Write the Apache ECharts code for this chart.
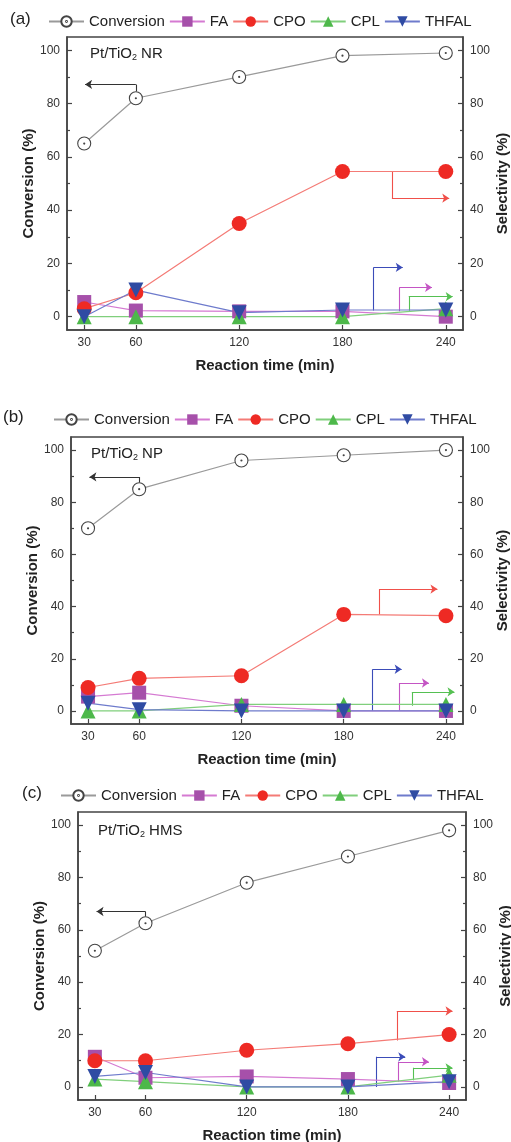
<!DOCTYPE html>
<html>
<head>
<meta charset="utf-8">
<script src="https://cdn.jsdelivr.net/npm/echarts@6/dist/echarts.min.js"></script>
<style>
  html, body { margin: 0; padding: 0; background: #fff; }
  #chart { width: 511px; height: 1142px; }
</style>
</head>
<body>
<div id="chart"></div>
<script>
// reaction times (min), shared by all three panels
const times = [30, 60, 120, 180, 240];
const xTicks = [30, 60, 120, 180, 240];
const yTicks = [0, 20, 40, 60, 80, 100];
const yMinor = [10, 30, 50, 70, 90];
const seriesNames = ["Conversion", "FA", "CPO", "CPL", "THFAL"];

// (a) Pt/TiO2 NR
const convA = [65, 82, 90, 98, 99];
const faA = [5.5, 2.3, 2, 2, 0];
const cpoA = [3, 9, 35, 54.5, 54.5];
const cplA = [0, 0, 0, 0, 3];
const thfalA = [0, 10, 1.5, 2.5, 2.5];

// (b) Pt/TiO2 NP
const convB = [70, 85, 96, 98, 100];
const faB = [5.5, 7, 2, 0, 0];
const cpoB = [9, 12.5, 13.5, 37, 36.5];
const cplB = [0, 0, 2.5, 2.5, 2.5];
const thfalB = [3, 0.5, 0, 0, 0];

// (c) Pt/TiO2 HMS
const convC = [52, 62.5, 78, 88, 98];
const faC = [11.5, 3.5, 4, 3, 1.5];
const cpoC = [10, 10, 14, 16.5, 20];
const cplC = [3, 2, 0, 0, 4.5];
const thfalC = [4, 5.5, 0, 0, 2];

// axis-pointer arrows, in data units: [time, %] corners
const arrowsA = {
  conv: [[60, 84.5], [60, 87.2], [30.5, 87.2]],
  cpo: [[208.7, 54.3], [208.7, 44.5], [242, 44.5]],
  thfal: [[198, 2.3], [198, 18.5], [215, 18.5]],
  fa: [[213, 2], [213, 11], [232, 11]],
  cpl: [[218.5, 2.2], [218.5, 7.5], [244, 7.5]],
};
const arrowsB = {
  conv: [[60, 87.5], [60, 89.7], [30.8, 89.7]],
  cpo: [[201, 37], [201, 46.7], [235, 46.7]],
  thfal: [[197, 0], [197, 16], [214, 16]],
  fa: [[212.5, 0], [212.5, 10.7], [230, 10.7]],
  cpl: [[220, 2], [220, 7.3], [245, 7.3]],
};
const arrowsC = {
  conv: [[60, 65], [60, 67], [31, 67]],
  cpo: [[209, 17.7], [209, 29], [242, 29]],
  thfal: [[197, 0], [197, 11.5], [214, 11.5]],
  fa: [[210, 2], [210, 9.6], [228, 9.6]],
  cpl: [[219, 2.5], [219, 7.3], [242, 7.3]],
};

const FONT = "Liberation Sans, Arial, sans-serif";
const AXIS = "#444";
const ring = "path://M12,0A12,12 0 1,1 12,24A12,12 0 1,1 12,0Z M12,11A1,1 0 1,1 12,13A1,1 0 1,1 12,11Z";
const triDown = "path://M0,0L10,0L5,9Z";

const styles = {
  Conversion: { symbol: ring, size: 13, color: "#fff", border: "#444", line: "#9a9a9a" },
  FA: { symbol: "rect", size: 14, color: "#a650aa", line: "#d57ad2" },
  CPO: { symbol: "circle", size: 15, color: "#ee2a24", line: "#f47b76" },
  CPL: { symbol: "triangle", size: 15, color: "#4db84a", line: "#80cf7c" },
  THFAL: { symbol: triDown, size: 15, color: "#2f4ba3", line: "#6e7bcc" },
};
const arrowColor = { conv: "#333", cpo: "#f0504a", thfal: "#3b4cb8", fa: "#c455c4", cpl: "#55c052" };

const panels = [
  { data: [convA, faA, cpoA, cplA, thfalA], arrows: arrowsA, grid: { left: 67, top: 37, right: 48, height: 293 },
    tag: "(a)", tagX: 10, tagY: 21, legendLeft: 48, legendY: 21, inset: "NR", insetX: 90, insetY: 55 },
  { data: [convB, faB, cpoB, cplB, thfalB], arrows: arrowsB, grid: { left: 71, top: 437, right: 48, height: 287 },
    tag: "(b)", tagX: 3, tagY: 419, legendLeft: 53, legendY: 419, inset: "NP", insetX: 91, insetY: 455 },
  { data: [convC, faC, cpoC, cplC, thfalC], arrows: arrowsC, grid: { left: 78, top: 812, right: 45, height: 288 },
    tag: "(c)", tagX: 22, tagY: 795, legendLeft: 60, legendY: 795, inset: "HMS", insetX: 98, insetY: 832 },
];

const grid = [], xAxis = [], yAxis = [], series = [], legend = [], graphic = [];

panels.forEach((p, i) => {
  grid.push({ ...p.grid, show: true, borderColor: AXIS, borderWidth: 1.5, outerBoundsMode: "none", containLabel: false });

  xAxis.push({
    gridIndex: i, type: "value", min: 20, max: 250,
    name: "Reaction time (min)", nameLocation: "middle", nameGap: 28, nameMoveOverlap: false,
    nameTextStyle: { fontFamily: FONT, fontSize: 15, fontWeight: "bold", color: "#222" },
    axisLine: { show: true, onZero: false, lineStyle: { color: AXIS, width: 1.5 } },
    axisTick: { show: true, inside: true, length: 5, customValues: xTicks, lineStyle: { color: AXIS, width: 1.2 } },
    axisLabel: { customValues: xTicks, margin: 7, fontFamily: FONT, fontSize: 12, color: "#333" },
    splitLine: { show: false },
  });

  // main left / right axes, then minor-tick axes on each side
  ["left", "right"].forEach((pos) => {
    yAxis.push({
      gridIndex: i, type: "value", min: -5, max: 105, position: pos,
      name: pos === "left" ? "Conversion (%)" : "Selectivity (%)",
      nameLocation: "middle", nameGap: pos === "left" ? 31 : 32, nameMoveOverlap: false,
      nameTextStyle: { fontFamily: FONT, fontSize: 15, fontWeight: "bold", color: "#222" },
      axisLine: { show: true, onZero: false, lineStyle: { color: AXIS, width: 1.5 } },
      axisTick: { show: true, inside: true, length: 5, customValues: yTicks, lineStyle: { color: AXIS, width: 1.2 } },
      axisLabel: { customValues: yTicks, margin: 7, fontFamily: FONT, fontSize: 12, color: "#333" },
      splitLine: { show: false },
    });
  });
  ["left", "right"].forEach((pos) => {
    yAxis.push({
      gridIndex: i, type: "value", min: -5, max: 105, position: pos,
      axisLine: { show: false },
      axisTick: { show: true, inside: true, length: 3, customValues: yMinor, lineStyle: { color: AXIS, width: 1.2 } },
      axisLabel: { show: false },
      splitLine: { show: false },
    });
  });

  // arrows: vertical shaft, then the horizontal leg carrying the head
  const keys = Object.keys(p.arrows);
  series.push({
    type: "lines", coordinateSystem: "cartesian2d",
    xAxisIndex: i, yAxisIndex: 4 * i, silent: true, z: 1,
    symbol: ["none", "none"],
    lineStyle: { width: 1.1, opacity: 1 },
    data: keys.map((k) => ({ coords: [p.arrows[k][0], p.arrows[k][1]], lineStyle: { color: arrowColor[k] } })),
  });
  series.push({
    type: "lines", coordinateSystem: "cartesian2d",
    xAxisIndex: i, yAxisIndex: 4 * i, silent: true, z: 1,
    symbol: ["none", "arrow"], symbolSize: 7,
    lineStyle: { width: 1.1, opacity: 1 },
    data: keys.map((k) => ({ coords: [p.arrows[k][1], p.arrows[k][2]], lineStyle: { color: arrowColor[k] } })),
  });

  seriesNames.forEach((name, j) => {
    const s = styles[name];
    series.push({
      type: "line", name, xAxisIndex: i, yAxisIndex: 4 * i, z: 2,
      data: times.map((t, k) => [t, p.data[j][k]]),
      symbol: s.symbol, symbolSize: s.size,
      itemStyle: { color: s.color, borderColor: s.border || s.color, borderWidth: s.border ? 1.1 : 0, opacity: 1 },
      lineStyle: { color: s.line, width: 1.2 },
    });
  });

  legend.push({
    data: seriesNames, left: p.legendLeft, top: p.legendY - 7, padding: 0,
    itemWidth: 35, itemHeight: 13, itemGap: 4, selectedMode: false,
    textStyle: { fontFamily: FONT, fontSize: 15, color: "#222" },
  });

  graphic.push({
    type: "text", left: p.tagX, top: p.tagY - 10,
    style: { text: p.tag, font: "17px " + FONT, fill: "#222" },
  });
  graphic.push({
    type: "text", left: p.insetX, top: p.insetY - 9,
    style: {
      text: "{a|Pt/TiO}{s|2}{a| " + p.inset + "}",
      rich: {
        a: { fontFamily: FONT, fontSize: 15, fill: "#222" },
        s: { fontFamily: FONT, fontSize: 9, fill: "#222", padding: [8, 0, 0, 0] },
      },
    },
  });
});

const chart = echarts.init(document.getElementById("chart"), null, { renderer: "canvas" });
chart.setOption({
  animation: false,
  backgroundColor: "#fff",
  grid, xAxis, yAxis, series, legend, graphic,
});
</script>
</body>
</html>
